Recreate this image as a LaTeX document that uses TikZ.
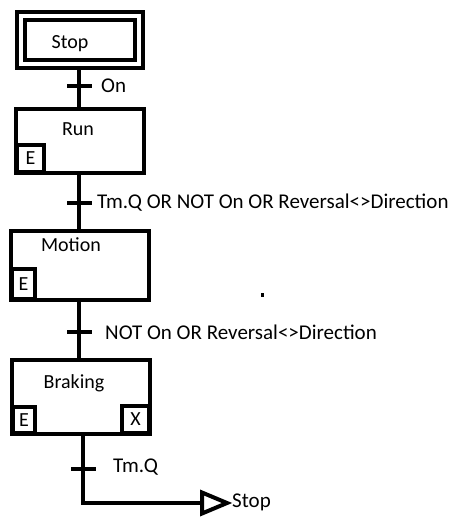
\documentclass[tikz,border=0pt]{standalone}
\usepackage{fontspec}
\setmainfont{Carlito}
\usetikzlibrary{positioning,shapes.geometric}
\tikzset{
  wire/.style={black,line width=4pt},
  stepbox/.style={draw=black,line width=4pt,fill=white,inner sep=0pt},
  initstep/.style={stepbox,line width=4pt,double=white,double distance=4pt},
  actbox/.style={draw=black,line width=4pt,fill=white,inner sep=0pt,font=\fontsize{20}{24}\selectfont},
  bar/.style={fill=black,inner sep=0pt,minimum width=25pt,minimum height=4pt},
  jumptri/.style={draw=black,line width=4pt,fill=white,isosceles triangle,isosceles triangle stretches,
                  inner sep=0pt,minimum width=21pt,minimum height=25pt},
  lab/.style={font=\fontsize{21}{25}\selectfont,inner sep=0pt},
  stepname/.style={font=\fontsize{20}{24}\selectfont,inner sep=0pt},
}

\begin{document}
\begin{tikzpicture}[x=1pt,y=-1pt]
  \useasboundingbox (0,0) rectangle (452,517);

  \node[initstep,minimum width=118pt,minimum height=48pt] (stop) at (80,40) {};
  \node[stepbox,minimum width=128pt,minimum height=64pt] (run) at (80,141) {};
  \node[stepbox,minimum width=138pt,minimum height=69pt] (motion) at (80,265.5) {};
  \node[stepbox,minimum width=138pt,minimum height=74pt] (braking) at (81,397) {};

  \node[stepname] (stopname) at (70,44) {Stop};
  \node[stepname] (runname) at (78,129) {Run};
  \node[stepname] (motionname) at (71,245) {Motion};
  \node[stepname] (brakingname) at (74,383) {Braking};

  \node[actbox,minimum width=27pt,minimum height=27pt,anchor=south west] (runE)
    at ([shift={(1pt,1pt)}]run.south west) {E};
  \node[actbox,minimum width=23pt,minimum height=30pt,anchor=south west] (motionE)
    at ([shift={(1pt,1pt)}]motion.south west) {E};
  \node[actbox,minimum width=22pt,minimum height=26pt,anchor=south west] (brakingE)
    at ([shift={(1pt,1pt)}]braking.south west) {E};
  \node[actbox,minimum width=27pt,minimum height=27pt,anchor=south east] (brakingX)
    at ([shift={(-1pt,1pt)}]braking.south east) {X};

  \node[bar] (t1) at (79,86) {};
  \node[bar] (t2) at (79,203) {};
  \node[bar] (t3) at (79,332) {};
  \node[bar] (t4) at (83,469) {};

  \node[lab,anchor=west] (t1lab) at (101,86) {On};
  \node[lab,anchor=west] (t2lab) at (97,203) {Tm.Q OR NOT On OR Reversal<>Direction};
  \node[lab,anchor=west] (t3lab) at (105,332) {NOT On OR Reversal<>Direction};
  \node[lab,anchor=west] (t4lab) at (113,467) {Tm.Q};

  \node[jumptri,anchor=west] (jump) at (200,503) {};
  \node[lab,anchor=west] (jumplab) at (232,502) {Stop};

  \draw[wire] ([yshift=-4pt]stop.south -| t1) -- (t1.center) -- (run.north -| t1);
  \draw[wire] (run.south -| t2) -- (t2.center) -- (motion.north -| t2);
  \draw[wire] (motion.south -| t3) -- (t3.center) -- (braking.north -| t3);
  \draw[wire] (braking.south -| t4) -- (t4.center) |- (jump.west);
  \node[bar] at (t1) {};
  \node[bar] at (t2) {};
  \node[bar] at (t3) {};
  \node[bar] at (t4) {};

  \fill (261,293) rectangle (264,297);
\end{tikzpicture}
\end{document}
